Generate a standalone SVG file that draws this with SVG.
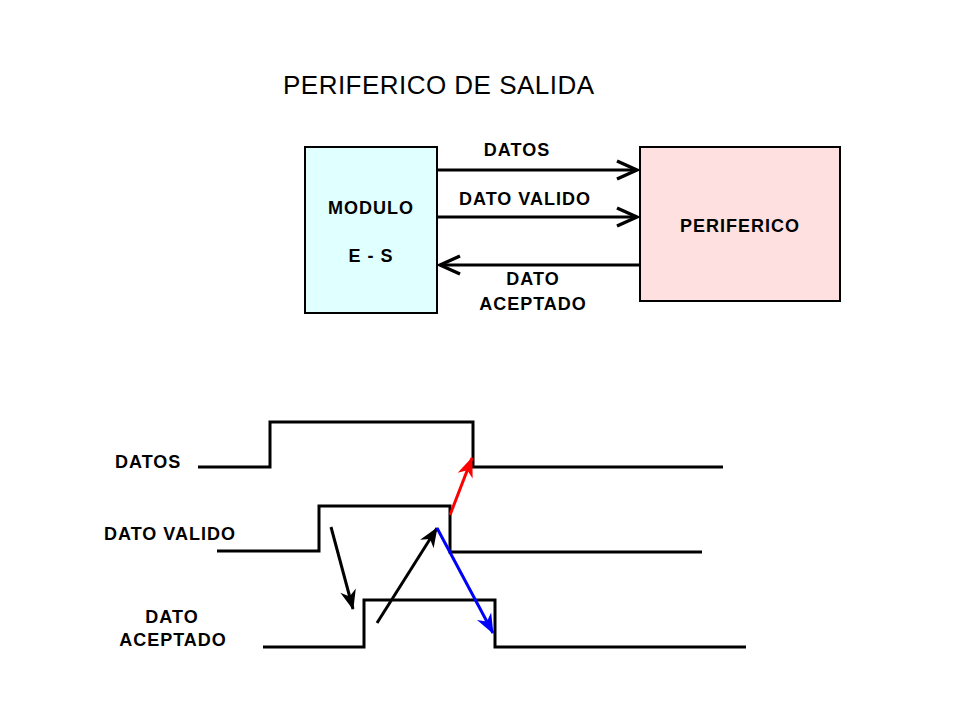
<svg xmlns="http://www.w3.org/2000/svg" width="960" height="720" viewBox="0 0 960 720">
<style>
.t{font-family:"Liberation Sans",Arial,sans-serif;font-weight:bold;font-size:18px;fill:#000;letter-spacing:1px}
.title{font-family:"Liberation Sans",Arial,sans-serif;font-size:26px;fill:#000}
.box{stroke:#000;stroke-width:2}
.sig{fill:none;stroke:#000;stroke-width:3;stroke-linejoin:miter}
.bus{fill:none;stroke:#000;stroke-width:3}
.ar{fill:none;stroke-width:3}
</style>
<defs>
<marker id="chev" markerUnits="userSpaceOnUse" viewBox="-24 -12 28 24" refX="0" refY="0" markerWidth="28" markerHeight="24" orient="auto">
<path d="M-20,-9 L0,0 L-20,9" fill="none" stroke="#000" stroke-width="3.5"/>
</marker>
<marker id="hk" markerUnits="userSpaceOnUse" viewBox="-22 -12 26 24" refX="0" refY="0" markerWidth="26" markerHeight="24" orient="auto">
<path d="M1,0 L-19,-8 L-13,0 L-19,8 Z" fill="#000"/>
</marker>
<marker id="hr" markerUnits="userSpaceOnUse" viewBox="-22 -12 26 24" refX="0" refY="0" markerWidth="26" markerHeight="24" orient="auto">
<path d="M1,0 L-19,-8 L-13,0 L-19,8 Z" fill="#f00"/>
</marker>
<marker id="hb" markerUnits="userSpaceOnUse" viewBox="-22 -12 26 24" refX="0" refY="0" markerWidth="26" markerHeight="24" orient="auto">
<path d="M1,0 L-19,-8 L-13,0 L-19,8 Z" fill="#00f"/>
</marker>
</defs>
<rect width="960" height="720" fill="#fff"/>
<text class="title" x="283" y="94" textLength="311" lengthAdjust="spacing">PERIFERICO DE SALIDA</text>

<g id="modulo">
<rect class="box" x="305" y="147" width="132" height="166" fill="#e0ffff"/>
<text class="t" x="371" y="214" text-anchor="middle">MODULO</text>
<text class="t" x="371" y="262" text-anchor="middle">E - S</text>
</g>
<g id="periferico">
<rect class="box" x="640" y="147" width="200" height="154" fill="#ffe0e0"/>
<text class="t" x="740" y="232" text-anchor="middle">PERIFERICO</text>
</g>

<g id="connectors">
<line class="bus" x1="437" y1="170" x2="637" y2="170" marker-end="url(#chev)"/>
<line class="bus" x1="437" y1="217" x2="637" y2="217" marker-end="url(#chev)"/>
<line class="bus" x1="640" y1="265" x2="440" y2="265" marker-end="url(#chev)"/>
</g>
<g id="bus-labels">
<text class="t" x="517" y="156" text-anchor="middle">DATOS</text>
<text class="t" x="525" y="205" text-anchor="middle">DATO VALIDO</text>
<text class="t" x="533" y="285" text-anchor="middle">DATO</text>
<text class="t" x="533" y="310" text-anchor="middle">ACEPTADO</text>
</g>

<g id="timing-datos">
<text class="t" x="115" y="468">DATOS</text>
<polyline class="sig" points="198,467 270,467 270,422 473,422 473,467 723,467"/>
</g>
<g id="timing-dato-valido">
<text class="t" x="104" y="540">DATO VALIDO</text>
<polyline class="sig" points="217,551 319,551 319,506 450,506 450,552 702,552"/>
</g>
<g id="timing-dato-aceptado">
<text class="t" x="172" y="623" text-anchor="middle">DATO</text>
<text class="t" x="173" y="646" text-anchor="middle">ACEPTADO</text>
<polyline class="sig" points="263,647 364,647 364,600 495,600 495,647 746,647"/>
</g>

<g id="timing-arrows">
<line class="ar" stroke="#000" x1="331" y1="527" x2="353" y2="609" marker-end="url(#hk)"/>
<line class="ar" stroke="#000" x1="377" y1="623" x2="437" y2="528" marker-end="url(#hk)"/>
<line class="ar" stroke="#00f" x1="437" y1="528" x2="493" y2="633" marker-end="url(#hb)"/>
<line class="ar" stroke="#f00" x1="450" y1="515" x2="472" y2="458" marker-end="url(#hr)"/>
</g>
</svg>
